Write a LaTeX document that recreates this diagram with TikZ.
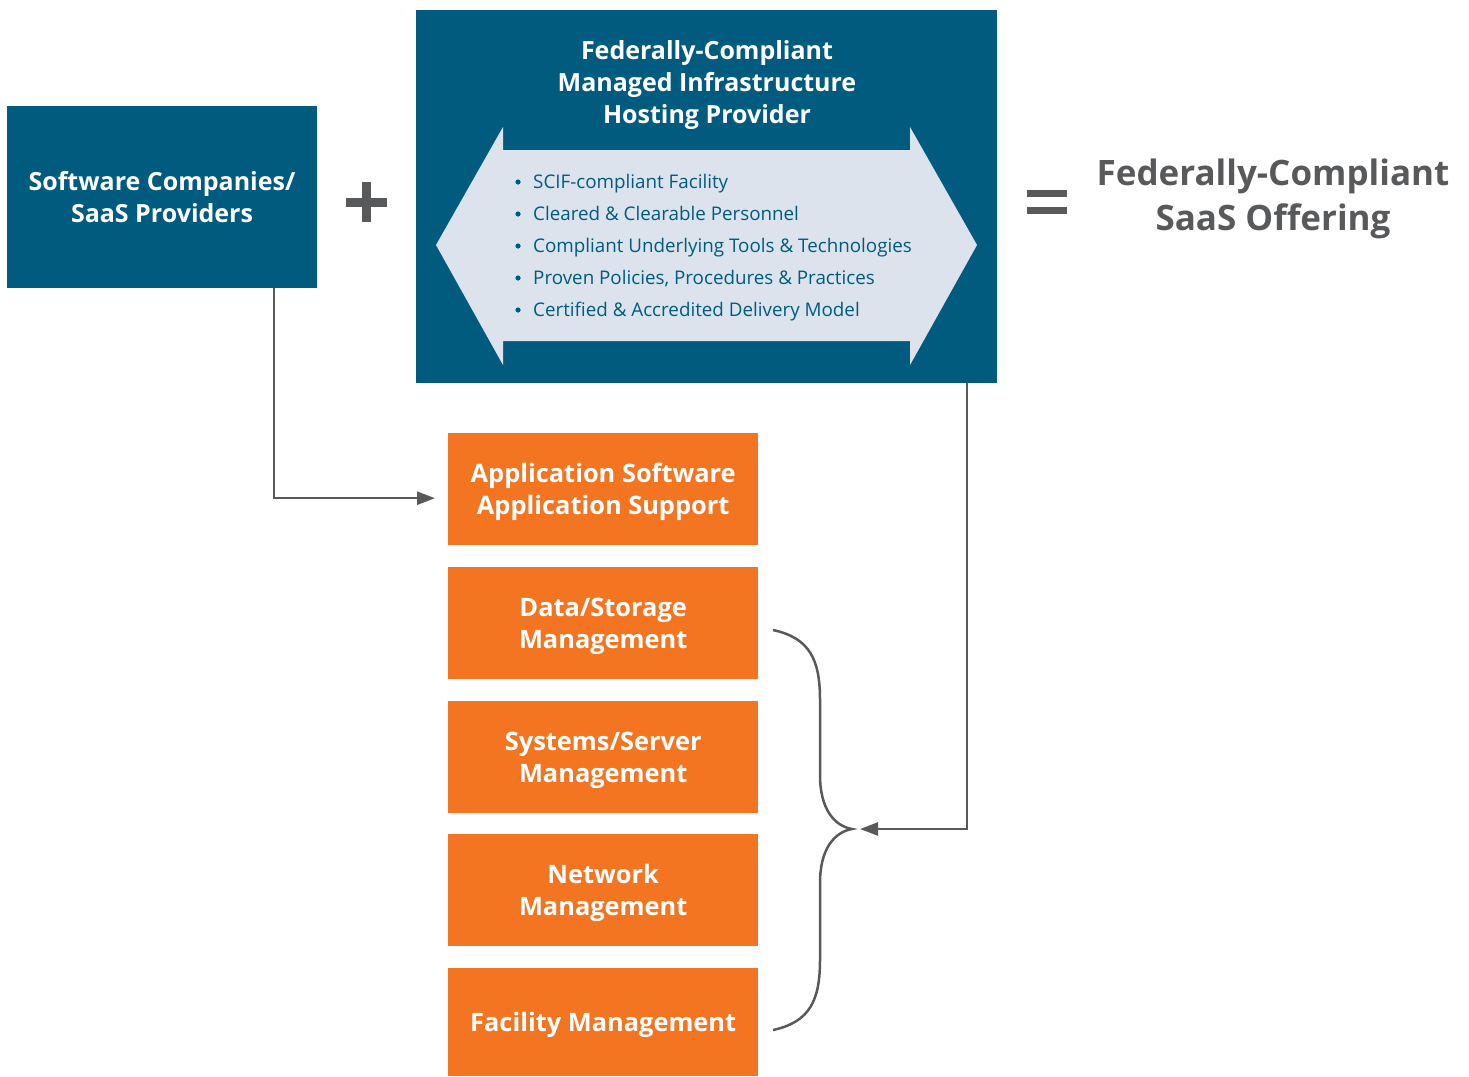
\documentclass[tikz,border=0pt]{standalone}
\usepackage{fontspec}
\setmainfont{Open Sans}
\usetikzlibrary{arrows.meta}
\definecolor{navy}{HTML}{005B7F}
\definecolor{paleblue}{HTML}{DCE3EC}
\definecolor{tangerine}{HTML}{F37521}
\definecolor{slate}{HTML}{58595B}
\begin{document}
\begin{tikzpicture}[
  x=1pt, y=-1pt,
  bluebox/.style={rectangle, fill=navy, text=white, inner sep=0pt, align=center, font=\bfseries\fontsize{25}{32}\selectfont},
  service/.style={rectangle, fill=tangerine, text=white, inner sep=0pt, minimum width=310pt, minimum height=112pt, text depth=0pt, anchor=north west, align=center, font=\bfseries\fontsize{25.4}{32}\selectfont},
  item/.style={anchor=base west, inner sep=0pt, text=navy, font=\fontsize{18.8}{20}\selectfont},
  link/.style={draw=slate, line width=2.5pt, -{Triangle[length=18pt,width=13pt]}},
  font=\small
]
\useasboundingbox (0,0) rectangle (1469,1076);

\node[bluebox, minimum width=310pt, minimum height=182pt] (saas) at (162,197) {Software Companies/\\SaaS Providers};
\node[bluebox, minimum width=581pt, minimum height=373pt] (host) at (706.5,196.5) {};
\node[text=white, align=center, font=\bfseries\fontsize{25}{32}\selectfont] (hosttitle) at (707,85) {Federally-Compliant\\Managed Infrastructure\\Hosting Provider};

% double arrow behind the list
\fill[paleblue] (436,245) -- (503,127) -- (503,150) -- (910,150) -- (910,127) -- (977,245)
  -- (910,365) -- (910,341) -- (503,341) -- (503,365) -- cycle;

\foreach \txt [count=\i] in {SCIF-compliant Facility, Cleared \& Clearable Personnel,
    Compliant Underlying Tools \& Technologies, {Proven Policies, Procedures \& Practices},
    Certified \& Accredited Delivery Model} {
  \pgfmathsetmacro{\yy}{188+32*(\i-1)}
  \fill[navy] (518,\yy-6) circle (2.6pt);
  \node[item] (item\i) at (533,\yy) {\txt};
}

% plus and equals
\fill[slate] (346,198) rectangle (387,207);
\fill[slate] (362,182) rectangle (371,222);
\fill[slate] (1027,190) rectangle (1067,197);
\fill[slate] (1027,207) rectangle (1067,214);

\node[text=slate, align=center, font=\bfseries\fontsize{35}{45}\selectfont] (offering) at (1273,199) {Federally-Compliant\\SaaS Offering};

% managed services
\node[service] (app) at (448,433) {Application Software\\Application Support};
\node[service] (data) at (448,567) {Data/Storage\\Management};
\node[service] (systems) at (448,701) {Systems/Server\\Management};
\node[service] (network) at (448,834) {Network\\Management};
\node[service, minimum height=108pt] (facility) at (448,968) {Facility Management};

% brace over the lower four
\draw[slate, line width=2.5pt] (773,630) .. controls (810,638) and (820,660) .. (820,700) -- (820,775)
  .. controls (820,810) and (835,826) .. (852,829) coordinate (bracetip)
  .. controls (835,832) and (820,848) .. (820,883) -- (820,960)
  .. controls (820,1000) and (810,1022) .. (773,1030);

\draw[link] ([xshift=112pt]saas.south) |- ([xshift=-13pt,yshift=-9pt]app.west);
\draw[link] ([xshift=260.5pt]host.south) |- ([xshift=8pt]bracetip);
\end{tikzpicture}
\end{document}
